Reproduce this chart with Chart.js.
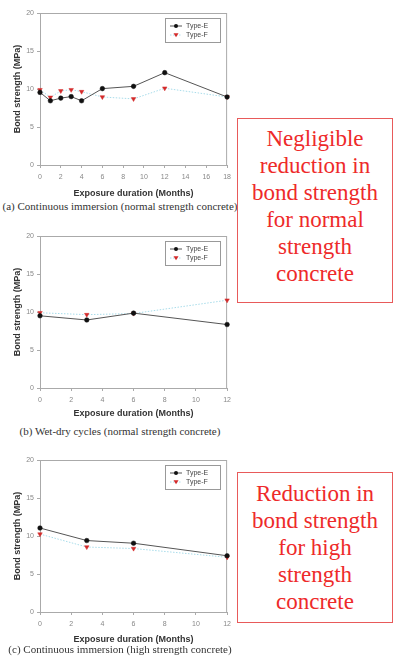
<!DOCTYPE html>
<html>
<head>
<meta charset="utf-8">
<script src="https://cdn.jsdelivr.net/npm/chart.js@4"></script>
<style>
  body { margin:0; background:#fff; width:396px; height:661px; position:relative; overflow:hidden; }
  .cv { position:absolute; left:0; width:236px; height:199px; }
  .cap { position:absolute; left:0; width:240px; text-align:center; font-family:"Liberation Serif",serif; font-size:11px; color:#333; white-space:nowrap; }
  .note { position:absolute; left:237px; width:156px; border:1px solid #e85a5a; color:#ee2a2a; font-family:"Liberation Serif",serif; font-size:23px; line-height:27px; text-align:center; box-sizing:border-box; }
</style>
</head>
<body>
<div class="cv" style="top:0"><canvas id="chartA"></canvas></div>
<div class="cap" style="top:200px">(a) Continuous immersion (normal strength concrete)</div>
<div class="cv" style="top:220px"><canvas id="chartB"></canvas></div>
<div class="cap" style="top:425px">(b) Wet-dry cycles (normal strength concrete)</div>
<div class="cv" style="top:446px"><canvas id="chartC"></canvas></div>
<div class="cap" style="top:643px">(c) Continuous immersion (high strength concrete)</div>

<div class="note" style="top:118px;height:185px;padding-top:6px">Negligible<br>reduction in<br>bond strength<br>for normal<br>strength<br>concrete</div>
<div class="note" style="top:472px;height:151px;padding-top:7px">Reduction in<br>bond strength<br>for high<br>strength<br>concrete</div>

<script>
/* DADOS */
const monthsA = [0, 1, 2, 3, 4, 6, 9, 12, 18];
const typeE_A = [9.55, 8.45, 8.8, 9.0, 8.45, 10.05, 10.35, 12.15, 8.95];
const typeF_A = [9.9, 8.9, 9.75, 9.9, 9.65, 8.95, 8.7, 10.1, 8.95];

const monthsB = [0, 3, 6, 12];
const typeE_B = [9.5, 8.95, 9.85, 8.35];
const typeF_B = [9.9, 9.65, 9.8, 11.55];

const monthsC = [0, 3, 6, 12];
const typeE_C = [11.05, 9.4, 9.05, 7.4];
const typeF_C = [10.25, 8.55, 8.35, 7.2];

const yTicks = [0, 5, 10, 15, 20];
const xTicksA = [0, 2, 4, 6, 8, 10, 12, 14, 16, 18];
const xTicksBC = [0, 2, 4, 6, 8, 10, 12];
const seriesNames = ["Type-E", "Type-F"];

const corE = "#111", linhaE = "#555";
const corF = "#d42a2a", linhaF = "#a8dcea";

/* moldura + legenda */
const moldura = {
  id: "moldura",
  beforeDatasetsDraw(chart) {
    const {ctx, chartArea: a} = chart;
    ctx.save();
    ctx.strokeStyle = "#aaa";
    ctx.lineWidth = 1;
    ctx.strokeRect(a.left + 0.5, a.top + 0.5, a.right - a.left - 1, a.bottom - a.top);
    ctx.restore();
  },
  afterDraw(chart) {
    const {ctx, chartArea: a} = chart;
    ctx.save();
    const lx = a.left + 125, ly = a.top + 5;
    ctx.strokeStyle = "#999";
    ctx.lineWidth = 1;
    ctx.strokeRect(lx + 0.5, ly + 0.5, 55, 24);
    ctx.font = "7px 'Liberation Sans', Arial, sans-serif";
    ctx.textBaseline = "middle";
    seriesNames.forEach((n, i) => {
      const y = ly + 8 + i * 9;
      ctx.beginPath();
      ctx.strokeStyle = i === 0 ? linhaE : linhaF;
      ctx.setLineDash(i === 0 ? [] : [1.5, 1.5]);
      ctx.moveTo(lx + 5, y); ctx.lineTo(lx + 17, y); ctx.stroke();
      ctx.setLineDash([]);
      ctx.fillStyle = i === 0 ? corE : corF;
      ctx.beginPath();
      if (i === 0) { ctx.arc(lx + 11, y, 2, 0, Math.PI * 2); }
      else { ctx.moveTo(lx + 8.5, y - 1.8); ctx.lineTo(lx + 13.5, y - 1.8); ctx.lineTo(lx + 11, y + 2.2); ctx.closePath(); }
      ctx.fill();
      ctx.fillStyle = "#444";
      ctx.fillText(n, lx + 21, y);
    });
    ctx.restore();
  }
};

function criarGrafico(id, meses, e, f, xMax, xTicks, padTop) {
  new Chart(document.getElementById(id), {
    type: "line",
    data: {
      datasets: [
        { label: seriesNames[0], data: meses.map((m, i) => ({x: m, y: e[i]})),
          borderColor: linhaE, borderWidth: 1, pointRadius: 2.3, pointBackgroundColor: corE,
          pointBorderColor: corE, pointBorderWidth: 0.5, tension: 0, clip: false },
        { label: seriesNames[1], data: meses.map((m, i) => ({x: m, y: f[i]})),
          borderColor: linhaF, borderWidth: 1, borderDash: [1.5, 1.5], pointStyle: "triangle",
          rotation: 180, pointRadius: 2.6, pointBackgroundColor: corF, pointBorderColor: corF,
          pointBorderWidth: 0.5, tension: 0, clip: false }
      ]
    },
    options: {
      responsive: true,
      maintainAspectRatio: false,
      animation: false,
      layout: { padding: { top: padTop, right: 5, left: 0, bottom: 0 } },
      plugins: { legend: { display: false }, tooltip: { enabled: false } },
      scales: {
        x: {
          type: "linear", min: 0, max: xMax,
          afterBuildTicks: s => { s.ticks = xTicks.map(v => ({value: v})); },
          afterFit: s => { s.height = 199 - (padTop + 152); },
          grid: { drawOnChartArea: false, drawTicks: true, tickLength: 3, color: "#aaa" },
          border: { color: "#aaa" },
          ticks: { color: "#888", font: { size: 7, family: "'Liberation Sans', Arial, sans-serif" }, padding: 5, maxRotation: 0 },
          title: { display: true, text: "Exposure duration (Months)", color: "#333",
                   font: { size: 9, weight: "bold", family: "'Liberation Sans', Arial, sans-serif" },
                   padding: { top: 0, bottom: 0 } }
        },
        y: {
          min: 0, max: 20,
          afterBuildTicks: s => { s.ticks = yTicks.map(v => ({value: v})); },
          afterFit: s => { s.width = 40; },
          grid: { drawOnChartArea: false, drawTicks: true, tickLength: 3, color: "#aaa" },
          border: { color: "#aaa" },
          ticks: { color: "#888", font: { size: 7, family: "'Liberation Sans', Arial, sans-serif" }, padding: 3 },
          title: { display: true, text: "Bond strength (MPa)", color: "#333",
                   font: { size: 9, weight: "bold", family: "'Liberation Sans', Arial, sans-serif" },
                   padding: { top: 12, bottom: 0 } }
        }
      }
    },
    plugins: [moldura]
  });
}

/* GRÁFICOS */
criarGrafico("chartA", monthsA, typeE_A, typeF_A, 18, xTicksA, 13);
criarGrafico("chartB", monthsB, typeE_B, typeF_B, 12, xTicksBC, 16);
criarGrafico("chartC", monthsC, typeE_C, typeF_C, 12, xTicksBC, 14);
</script>
</body>
</html>
